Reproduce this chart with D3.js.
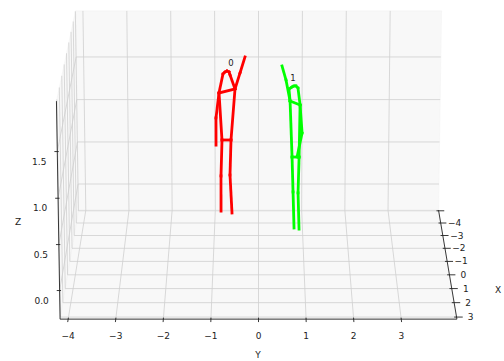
<!DOCTYPE html>
<html>
<head>
<meta charset="utf-8">
<script src="https://cdn.jsdelivr.net/npm/d3@7"></script>
<style>
  body { margin: 0; background: #fff; }
  text { font-family: "DejaVu Sans", sans-serif; fill: #222; }
</style>
</head>
<body>
<svg id="chart" width="504" height="361"></svg>
<script>
'use strict'

// axis ranges and ticks
const xDomain = [-5.05, 3.14]
const yDomain = [-4.17, 4.17]
const zDomain = [-0.313, 2.036]
const xTicks = [-5, -4, -3, -2, -1, 0, 1, 2, 3]
const xTickLabels = ['', '−4', '−3', '−2', '−1', '0', '1', '2', '3']
const yTicks = [-4, -3, -2, -1, 0, 1, 2, 3]
const yTickLabels = ['−4', '−3', '−2', '−1', '0', '1', '2', '3']
const zTicks = [0, 0.5, 1, 1.5]
const zTickLabels = ['0.0', '0.5', '1.0', '1.5']

// COCO style keypoints: nose, leye, reye, lear, rear, lsho, rsho, lelb, relb,
// lwri, rwri, lhip, rhip, lknee, rknee, lank, rank
const bones = [[0,1],[0,2],[1,3],[2,4],[3,5],[4,6],[5,6],[5,7],[7,9],[6,8],[8,10],
               [5,11],[6,12],[11,12],[11,13],[13,15],[12,14],[14,16]]

const person0 = [
  [-2.7, -0.699, 1.628], [-2.7, -0.744, 1.617], [-2.7, -0.655, 1.617],
  [-2.7, -0.790, 1.594], [-2.7, -0.633, 1.583],
  [-2.7, -0.880, 1.378], [-2.7, -0.523, 1.423],
  [-2.7, -0.949, 1.092], [-2.7, -0.411, 1.605],
  [-2.7, -0.950, 0.781], [-2.7, -0.300, 1.787],
  [-2.7, -0.816, 0.839], [-2.7, -0.615, 0.839],
  [-2.7, -0.841, 0.424], [-2.7, -0.639, 0.435],
  [-2.7, -0.843, 0.017], [-2.7, -0.596, -0.006]
]
const person1 = [
  [-1.5, 0.778, 1.609], [-1.5, 0.734, 1.598], [-1.5, 0.821, 1.609],
  [-1.5, 0.668, 1.575], [-1.5, 0.865, 1.587],
  [-1.5, 0.693, 1.441], [-1.5, 0.913, 1.395],
  [-1.5, 0.602, 1.677], [-1.5, 0.959, 1.079],
  [-1.5, 0.515, 1.833], [-1.5, 0.851, 0.807],
  [-1.5, 0.740, 0.807], [-1.5, 0.895, 0.807],
  [-1.5, 0.764, 0.409], [-1.5, 0.875, 0.398],
  [-1.5, 0.788, -0.004], [-1.5, 0.899, -0.016]
]
const people = [person0, person1]
const personColors = ['#ff0000', '#00ff00']
const personLabels = ['0', '1']
const labelPoints = [[-2.7, -0.61, 1.72], [-1.5, 0.756, 1.70]]

// view
const elev = 16.2, azim = 0, dist = 10
const box = [1.02, 1.089, 0.62]
const K = 3497, cx = 258.5, cy = 158.8

const xb = d3.scaleLinear().domain(xDomain).range([-box[0] / 2, box[0] / 2])
const yb = d3.scaleLinear().domain(yDomain).range([-box[1] / 2, box[1] / 2])
const zb = d3.scaleLinear().domain(zDomain).range([-box[2] / 2, box[2] / 2])
const sx = d3.scaleLinear().domain([-1, 1]).range([cx - K, cx + K])
const sy = d3.scaleLinear().domain([-1, 1]).range([cy + K, cy - K])

const rad = Math.PI / 180
const w = [Math.cos(elev*rad) * Math.cos(azim*rad), Math.cos(elev*rad) * Math.sin(azim*rad), Math.sin(elev*rad)]
const eye = w.map(d => d * dist)
let u = [-w[1], w[0], 0]
const un = Math.hypot(...u)
u = u.map(d => d / un)
const v = [w[1]*u[2] - w[2]*u[1], w[2]*u[0] - w[0]*u[2], w[0]*u[1] - w[1]*u[0]]

function proj(p) {
  const q = [xb(p[0]) - eye[0], yb(p[1]) - eye[1], zb(p[2]) - eye[2]]
  const dot = a => a[0]*q[0] + a[1]*q[1] + a[2]*q[2]
  const depth = -dot(w)
  return [sx(dot(u) / depth), sy(dot(v) / depth)]
}

const [x0, x1] = xDomain, [y0, y1] = yDomain, [z0, z1] = zDomain
const line = d3.line().x(d => proj(d)[0]).y(d => proj(d)[1])

const svg = d3.select('#chart')

// panes
const panes = [
  [[x0, y0, z0], [x0, y1, z0], [x0, y1, z1], [x0, y0, z1]],
  [[x0, y0, z0], [x1, y0, z0], [x1, y0, z1], [x0, y0, z1]],
  [[x0, y0, z0], [x1, y0, z0], [x1, y1, z0], [x0, y1, z0]]
]
svg.append('g').selectAll('path')
  .data(panes)
  .join('path')
    .attr('d', d => line(d) + 'Z')
    .attr('fill', 'rgba(242,242,242,0.5)')
    .attr('stroke', 'rgba(242,242,242,0.5)')

// grid
const grid = svg.append('g')
  .attr('fill', 'none')
  .attr('stroke', '#cfcfcf')
  .attr('stroke-width', 0.8)
grid.selectAll('.gx').data(xTicks).join('path').attr('class', 'gx')
  .attr('d', t => line([[t, y1, z0], [t, y0, z0], [t, y0, z1]]))
grid.selectAll('.gy').data(yTicks).join('path').attr('class', 'gy')
  .attr('d', t => line([[x1, t, z0], [x0, t, z0], [x0, t, z1]]))
grid.selectAll('.gz').data(zTicks).join('path').attr('class', 'gz')
  .attr('d', t => line([[x0, y1, t], [x0, y0, t], [x1, y0, t]]))

// axis lines and ticks
const axes = svg.append('g')
  .attr('fill', 'none')
  .attr('stroke', '#222')
  .attr('stroke-width', 0.9)
axes.append('path').attr('d', line([[x0, y1, z0], [x1, y1, z0]]))
axes.append('path').attr('d', line([[x1, y0, z0], [x1, y1, z0]]))
axes.append('path').attr('d', line([[x1, y0, z0], [x1, y0, z1]]))
axes.selectAll('.tx').data(xTicks).join('path').attr('class', 'tx')
  .attr('d', t => line([[t, y1 - 0.05, z0], [t, y1 + 0.13, z0]]))
axes.selectAll('.ty').data(yTicks).join('path').attr('class', 'ty')
  .attr('d', t => line([[x1 - 0.1, t, z0], [x1 + 0.2, t, z0]]))
axes.selectAll('.tz').data(zTicks).join('path').attr('class', 'tz')
  .attr('d', t => line([[x1, y0 + 0.03, t], [x1, y0 - 0.06, t]]))

// tick labels
const labels = svg.append('g')
  .attr('font-size', 9)
  .attr('text-anchor', 'middle')
  .attr('dominant-baseline', 'central')
labels.selectAll('.lx').data(xTicks).join('text').attr('class', 'lx')
  .attr('x', t => proj([t, y1, z0])[0] + 14)
  .attr('y', t => proj([t, y1, z0])[1])
  .text((t, i) => xTickLabels[i])
labels.selectAll('.ly').data(yTicks).join('text').attr('class', 'ly')
  .attr('x', t => proj([x1, t, z0])[0])
  .attr('y', t => proj([x1, t, z0])[1] + 17)
  .text((t, i) => yTickLabels[i])
labels.selectAll('.lz').data(zTicks).join('text').attr('class', 'lz')
  .attr('x', t => proj([x1, y0, t])[0] - 18)
  .attr('y', t => proj([x1, y0, t])[1] + 10)
  .text((t, i) => zTickLabels[i])

// axis titles
labels.append('text').attr('x', 498).attr('y', 290).text('X')
labels.append('text').attr('x', 258).attr('y', 355).text('Y')
labels.append('text').attr('x', 18).attr('y', 222).text('Z')

// skeletons
const skel = svg.append('g')
people.forEach((pts, i) => {
  skel.append('g')
    .attr('stroke', personColors[i])
    .attr('stroke-width', 2.8)
    .attr('stroke-linecap', 'square')
    .selectAll('path')
    .data(bones)
    .join('path')
      .attr('d', b => line([pts[b[0]], pts[b[1]]]))
  const lp = proj(labelPoints[i])
  skel.append('text')
    .attr('x', lp[0]).attr('y', lp[1])
    .attr('font-size', 8.5)
    .attr('text-anchor', 'middle')
    .attr('dominant-baseline', 'central')
    .text(personLabels[i])
})
</script>
</body>
</html>
